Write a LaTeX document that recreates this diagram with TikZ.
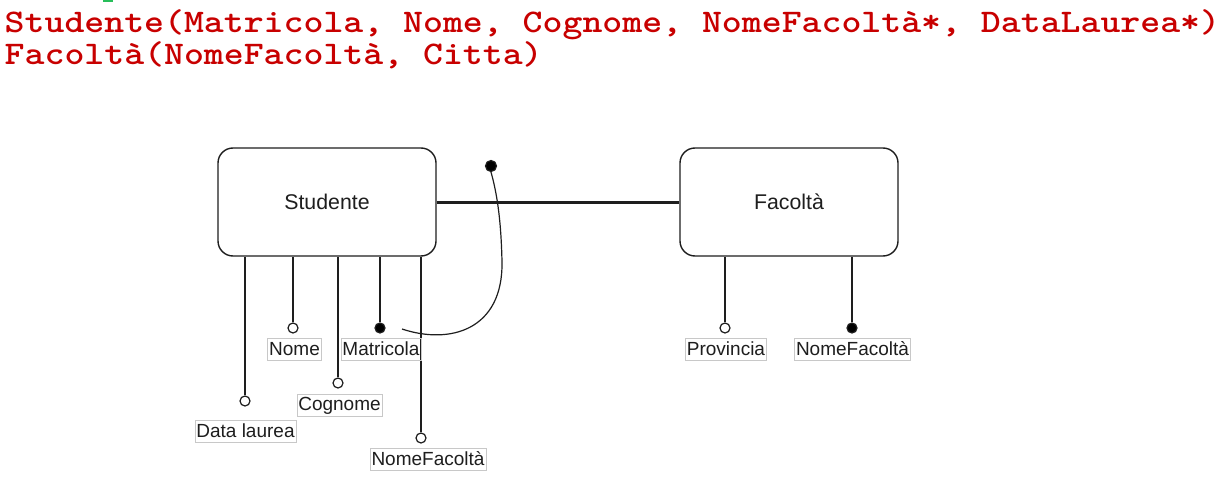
\documentclass[tikz,border=0pt]{standalone}
\usepackage{fontspec}
\setmainfont{Liberation Sans}
\definecolor{hdr}{RGB}{200,0,0}
\definecolor{ink}{RGB}{30,30,30}
\definecolor{lblbox}{RGB}{200,200,200}
\definecolor{grn}{RGB}{40,190,90}
\begin{document}
\begin{tikzpicture}[x=1pt,y=-1pt,
 entity/.style={draw=ink, line width=1.4pt, rounded corners=15pt, minimum width=218pt, minimum height=108pt, font=\fontsize{21.3}{24}\selectfont, text=ink},
 attr/.style={circle, draw=ink, line width=1.2pt, fill=white, minimum size=10pt, inner sep=0pt},
 key/.style={attr, fill=black},
 lbl/.style={draw=lblbox, line width=0.6pt, inner xsep=1.5pt, inner ysep=0pt, minimum height=22pt, font=\fontsize{19}{22}\selectfont, text=ink},
 link/.style={draw=ink, line width=1.4pt},
 rel/.style={draw=ink, line width=3pt},
 hdrtext/.style={anchor=base west, inner sep=0pt, xscale=1.15, transform shape, font=\ttfamily\bfseries\fontsize{33}{32}\selectfont, text=hdr}]
\useasboundingbox (0,0) rectangle (1227,503);
\fill[white] (0,0) rectangle (1227,503);
\fill[grn] (103,0) rectangle (113,2.5);
% header
\node[hdrtext] (h1) at (4.5,32.5) {Studente(Matricola, Nome, Cognome, NomeFacoltà*, DataLaurea*)};
\node[hdrtext] (h2) at (4.5,64.5) {Facoltà(NomeFacoltà, Citta)};
% entities
\node[entity] (studente) at (327,202) {Studente};
\node[entity] (facolta) at (789,202) {Facoltà};
\draw[rel] (studente.east) -- (facolta.west);
% Studente attributes
\node[attr] (cdata) at (245,401) {};
\node[attr] (cnome) at (293,328) {};
\node[attr] (ccogn) at (338,383) {};
\node[key]  (cmatr) at (380,328) {};
\node[attr] (cnfac) at (421,438) {};
\draw[link] (cdata.north) -- (cdata.north |- studente.south);
\draw[link] (cnome.north) -- (cnome.north |- studente.south);
\draw[link] (ccogn.north) -- (ccogn.north |- studente.south);
\draw[link] (cmatr.north) -- (cmatr.north |- studente.south);
\draw[link] (cnfac.north) -- (cnfac.north |- studente.south);
\node[lbl] (ldata) at (245.5,431) {Data laurea};
\node[lbl] (lnome) at (294.5,349) {Nome};
\node[lbl] (lcogn) at (339.5,405.5) {Cognome};
\node[lbl] (lmatr) at (381,349) {Matricola};
\node[lbl] (lnfac) at (428,459) {NomeFacoltà};
% identifier curve
\coordinate (idstart) at (402,329);
\node[key, minimum size=11pt] (iddot) at (491,166) {};
\draw[ink, line width=1.2pt] (idstart) .. controls (450,345) and (503,330) .. (502,262) .. controls (501,215) and (496,190) .. (iddot.south);
% Facolta attributes
\node[attr] (cprov) at (725,328) {};
\node[key]  (cfnom) at (852,328) {};
\draw[link] (cprov.north) -- (cprov.north |- facolta.south);
\draw[link] (cfnom.north) -- (cfnom.north |- facolta.south);
\node[lbl] (lprov) at (726,349) {Provincia};
\node[lbl] (lfnom) at (852.5,349) {NomeFacoltà};
\end{tikzpicture}
\end{document}
